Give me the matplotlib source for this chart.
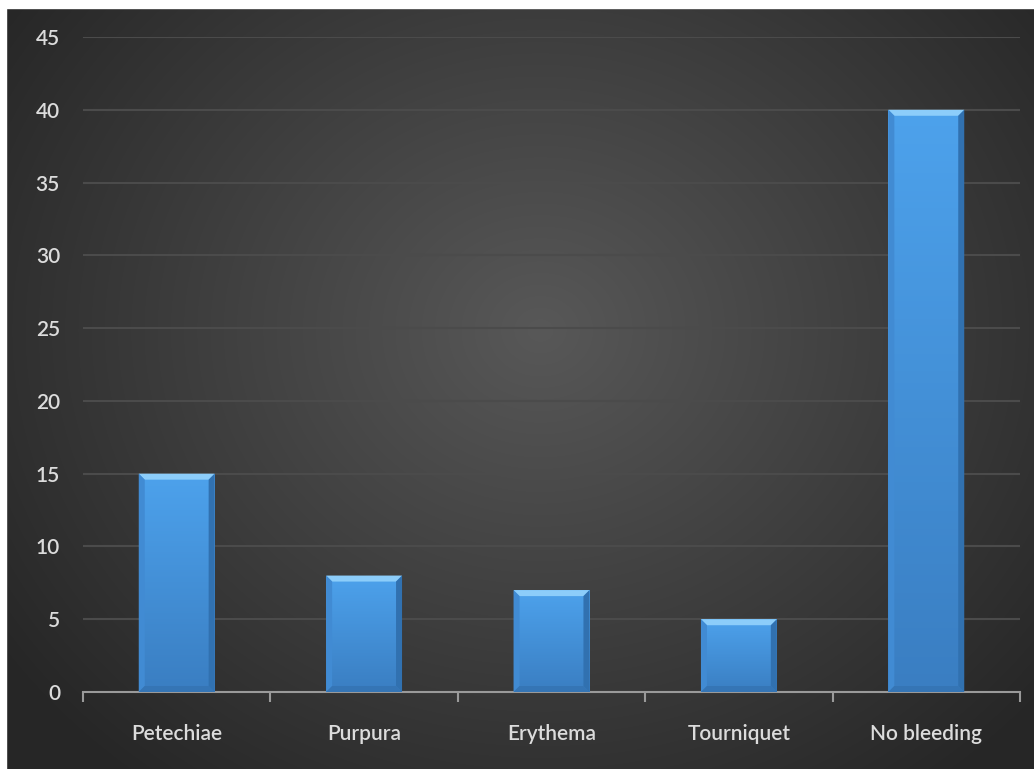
import numpy as np
import matplotlib.pyplot as plt
from matplotlib.patches import Rectangle, Polygon

categories = ['Petechiae', 'Purpura', 'Erythema', 'Tourniquet', 'No bleeding']
counts = [15, 8, 7, 5, 40]
yticks = [0, 5, 10, 15, 20, 25, 30, 35, 40, 45]

W, H = 1034, 769
fig = plt.figure(figsize=(W / 100, H / 100), dpi=100)

# dark radial gradient behind everything
bg = fig.add_axes([0, 0, 1, 1], zorder=-5)
yy, xx = np.mgrid[0:H, 0:W]
r = np.hypot((xx - 540) / 640.0, (yy - 330) / 560.0)
shade = np.clip(0.345 - 0.19 * r, 0.15, 0.35)
bg.imshow(np.dstack([shade] * 3), extent=[0, 1, 0, 1], aspect='auto', origin='upper')
bg.set_axis_off()
# white frame strips on top and left
fig.patches.append(Rectangle((0, 1 - 8 / H), 1, 8 / H, transform=fig.transFigure,
                             color='white', zorder=10))
fig.patches.append(Rectangle((0, 0), 6 / W, 1, transform=fig.transFigure,
                             color='white', zorder=10))

ax = fig.add_axes([83 / W, 1 - 692 / H, (1020 - 83) / W, (692 - 37) / H])
ax.patch.set_alpha(0)
x = np.arange(len(categories))
bw = 0.405
bars = ax.bar(x, counts, width=bw, color='#4797e0', edgecolor='none', zorder=3)

# bevel shading on each bar
px_x = (len(categories)) / (1020 - 83)   # data units per pixel (x)
px_y = 45 / (692 - 37)                   # data units per pixel (y)
for b in bars:
    x0, w, h = b.get_x(), b.get_width(), b.get_height()
    x1 = x0 + w
    # vertical gradient body
    grad = np.linspace(0, 1, 100)[:, None]
    top_c = np.array([0x4d, 0xa2, 0xec]) / 255
    bot_c = np.array([0x3a, 0x7e, 0xc2]) / 255
    img = top_c * (1 - grad[..., None]) + bot_c * grad[..., None]
    im = ax.imshow(img, extent=[x0, x1, 0, h], aspect='auto', origin='upper', zorder=3)
    im.set_clip_path(b)
    bx, by = 6 * px_x, 6 * px_y
    ax.add_patch(Polygon([[x0, h], [x1, h], [x1 - bx, h - by], [x0 + bx, h - by]],
                         closed=True, color='#8ccdfa', lw=0, zorder=4))
    ax.add_patch(Polygon([[x1, h], [x1, 0], [x1 - bx, by], [x1 - bx, h - by]],
                         closed=True, color='#3171b0', lw=0, zorder=4))
    ax.add_patch(Polygon([[x0, h], [x0, 0], [x0 + bx, by], [x0 + bx, h - by]],
                         closed=True, color='#418bd3', lw=0, zorder=4))
    ax.add_patch(Polygon([[x0, 0], [x1, 0], [x1 - bx, by], [x0 + bx, by]],
                         closed=True, color='#3575b5', lw=0, zorder=4))

ax.set_xlim(-0.5, len(categories) - 0.5)
ax.set_ylim(0, 45)
ax.set_yticks(yticks)
ax.grid(axis='y', color='#4b4b4b', lw=1.5, zorder=0)
for s in ['top', 'right', 'left']:
    ax.spines[s].set_visible(False)
ax.spines['bottom'].set_color('#9a9a9a')
ax.spines['bottom'].set_linewidth(1.5)

ax.set_xticks(x)
ax.set_xticklabels(categories)
ax.set_xticks(np.arange(len(categories) + 1) - 0.5, minor=True)
ax.tick_params(axis='x', which='major', length=0, pad=23, labelsize=15,
               labelcolor='#dcdcdc')
ax.tick_params(axis='x', which='minor', length=7, width=1.5, color='#9a9a9a')
ax.tick_params(axis='y', length=0, pad=16.5, labelsize=15, labelcolor='#dcdcdc')
for lab in ax.get_xticklabels() + ax.get_yticklabels():
    lab.set_fontfamily('Lato')
    lab.set_fontweight('semibold')

fig.savefig('out.png', dpi=100)
